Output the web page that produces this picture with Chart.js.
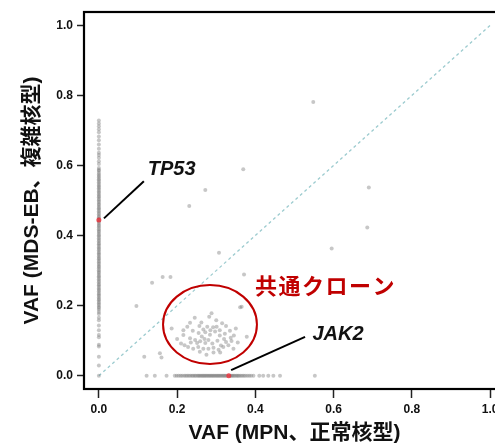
<!DOCTYPE html>
<html><head><meta charset="utf-8">
<script src="https://cdn.jsdelivr.net/npm/chart.js@4"></script>
<style>html,body{margin:0;padding:0;background:#fff;overflow:hidden}#wrap{width:520px;height:445px}</style>
</head><body><div id="wrap"><canvas id="c" width="520" height="445"></canvas></div>
<script>
// ---- data (VAF values) ----
const tickValues = [0.0, 0.2, 0.4, 0.6, 0.8, 1.0];
const xTitle = "VAF (MPN、正常核型)";
const yTitle = "VAF (MDS-EB、複雑核型)";
// variants found only in MDS-EB (MPN VAF = 0)
const mdsOnlyVaf = [0.728,0.720,0.712,0.703,0.695,0.683,0.672,0.660,0.648,0.636,0.630,0.622,0.612,0.604,
 0.593,0.588,0.585,0.579,0.574,0.570,0.566,0.561,0.557,0.552,0.548,0.543,0.539,0.535,0.531,0.526,0.522,0.517,0.513,0.509,
 0.504,0.500,0.496,0.491,0.487,0.482,0.478,0.474,0.469,0.465,0.461,0.456,0.452,0.448,0.440,0.436,0.431,0.427,0.423,0.418,
 0.414,0.410,0.405,0.401,0.397,0.392,0.388,0.384,0.379,0.375,0.371,0.366,0.362,0.358,0.353,0.349,0.345,0.340,0.336,0.332,
 0.327,0.323,0.319,0.314,0.310,0.306,0.301,0.297,0.293,0.288,0.284,0.280,0.275,0.271,0.267,0.262,0.258,0.254,0.249,0.245,
 0.241,0.236,0.232,0.228,0.223,0.219,0.215,0.210,0.206,0.202,0.197,0.193,0.188,0.182,0.176,
 0.165,0.158,0.143,0.130,0.116,0.110,0.088,0.083,0.054,0.029,0.0];
// variants found only in MPN (MDS VAF = 0)
const mpnOnlyVaf = [0.122,0.143,0.173,0.194,0.199,0.204,0.209,0.213,0.218,0.222,0.226,0.230,0.234,0.238,0.241,0.245,0.248,
 0.252,0.255,0.258,0.261,0.264,0.267,0.270,0.273,0.276,0.279,0.282,0.285,0.288,0.291,0.294,0.297,0.300,0.303,0.306,0.309,
 0.312,0.315,0.318,0.321,0.324,0.327,0.336,0.339,0.342,0.345,0.348,0.352,0.355,0.358,0.362,0.366,0.370,0.374,0.379,0.384,
 0.389,0.395,0.410,0.420,0.433,0.446,0.463,0.552];
// variants present in both samples
const sharedMpnVaf = [0.288,0.282,0.361,0.233,0.186,0.216,0.216,0.257,0.267,0.277,0.292,0.301,0.309,0.325,
 0.255,0.263,0.272,0.284,0.297,0.309,0.322,0.335,0.233,0.246,0.251,0.259,0.272,0.280,0.290,0.303,0.312,0.325,0.337,0.339,
 0.210,0.219,0.228,0.241,0.254,0.267,0.280,0.293,0.306,0.318,0.331,0.344,0.293,0.310,
 0.378,0.365,0.245,0.300,0.262,0.315,0.240,0.350,0.200,0.226,0.270,0.285,0.320,0.345,0.258,0.275,0.235,0.355,
 0.548,0.369,0.272,0.231,0.690,0.686,0.595,0.307,0.136,0.163,0.183,0.371,0.096,0.116,0.156,0.160];
const sharedMdsVaf = [0.178,0.168,0.195,0.151,0.135,0.130,0.116,0.142,0.132,0.140,0.138,0.140,0.130,0.142,
 0.122,0.112,0.124,0.117,0.126,0.115,0.120,0.128,0.107,0.102,0.093,0.098,0.093,0.102,0.092,0.100,0.086,0.096,0.108,0.099,
 0.092,0.087,0.082,0.077,0.082,0.077,0.077,0.080,0.074,0.082,0.087,0.077,0.066,0.066,
 0.111,0.197,0.165,0.158,0.152,0.150,0.128,0.135,0.105,0.140,0.105,0.130,0.105,0.115,0.068,0.060,0.095,0.095,
 0.781,0.589,0.530,0.484,0.537,0.423,0.363,0.351,0.265,0.282,0.282,0.289,0.199,0.054,0.064,0.052];
const highlightGenes = ["TP53", "JAK2"];
const highlightMpnVaf = [0.0, 0.332];
const highlightMdsVaf = [0.444, 0.0];
const calloutLabel = "共通クローン";

// ---- build datasets ----
const greyPts = [];
mdsOnlyVaf.forEach(v => greyPts.push({x: 0, y: v}));
mpnOnlyVaf.forEach(v => greyPts.push({x: v, y: 0}));
sharedMpnVaf.forEach((v, i) => greyPts.push({x: v, y: sharedMdsVaf[i]}));
const redPts = highlightMpnVaf.map((v, i) => ({x: v, y: highlightMdsVaf[i]}));

const FONT = "'Liberation Sans', Arial, 'Noto Sans CJK JP', sans-serif";
const CJK = "'Noto Sans CJK JP', 'Liberation Sans', sans-serif";

const annot = {
  id: 'annot',
  afterDatasetsDraw(chart) {
    const ctx = chart.ctx, xs = chart.scales.x, ys = chart.scales.y, a = chart.chartArea;
    const X = v => xs.getPixelForValue(v), Y = v => ys.getPixelForValue(v);
    ctx.save();
    // box
    ctx.strokeStyle = '#000'; ctx.lineWidth = 2.2;
    ctx.strokeRect(a.left, a.top, a.right - a.left, a.bottom - a.top);
    // ellipse
    ctx.strokeStyle = '#c00000'; ctx.lineWidth = 2;
    ctx.beginPath();
    ctx.ellipse(X(0.284), Y(0.146), X(0.284 + 0.120) - X(0.284), Y(0.146) - Y(0.146 + 0.1126), 0, 0, Math.PI * 2);
    ctx.stroke();
    // connectors
    ctx.strokeStyle = '#000'; ctx.lineWidth = 2;
    ctx.beginPath(); ctx.moveTo(X(0.013), Y(0.449)); ctx.lineTo(X(0.115), Y(0.555)); ctx.stroke();
    ctx.beginPath(); ctx.moveTo(X(0.338), Y(0.016)); ctx.lineTo(X(0.527), Y(0.111)); ctx.stroke();
    // gene labels
    ctx.fillStyle = '#111'; ctx.font = 'italic bold 20px ' + FONT; ctx.textBaseline = 'middle'; ctx.textAlign = 'left';
    ctx.fillText(highlightGenes[0], X(0.125), Y(0.588));
    ctx.fillText(highlightGenes[1], X(0.546), Y(0.119));
    // callout
    ctx.fillStyle = '#c00000'; ctx.font = 'bold 22px ' + CJK; ctx.textAlign = 'left';
    ctx.letterSpacing = '1.5px';
    ctx.fillText(calloutLabel, X(0.399), Y(0.256));
    ctx.restore();
  }
};

const scaleCommon = (title, isX) => ({
  type: 'linear', min: -0.038, max: 1.038,
  afterBuildTicks: s => { s.ticks = tickValues.map(v => ({value: v})); },
  afterFit: s => { if (isX) s.height = 56; else s.width = 84; },
  grid: {drawOnChartArea: false, drawTicks: true, tickLength: isX ? 9 : 7, tickColor: '#222', tickWidth: 1.5},
  border: {display: false},
  ticks: {color: '#111', font: {family: FONT, size: 12, weight: 'bold'}, padding: 4,
    callback: v => Number(v).toFixed(1), autoSkip: false, maxRotation: 0},
  title: {display: true, text: title, color: '#111', font: {family: FONT, size: 21, weight: 'bold', lineHeight: 1.1},
    padding: isX ? {top: 0, bottom: 0} : {top: 21, bottom: 0}}
});

new Chart(document.getElementById('c'), {
  type: 'scatter',
  data: {datasets: [
    {data: redPts, backgroundColor: 'rgba(230,40,50,0.8)', borderWidth: 0, pointRadius: 2.5},
    {data: greyPts, backgroundColor: 'rgba(115,115,115,0.4)', borderWidth: 0, pointRadius: 2},
    {data: [{x: 0, y: 0}, {x: 1, y: 1}], showLine: true, borderColor: '#9ccbcf', borderWidth: 1.3,
      borderDash: [3, 3], pointRadius: 0, fill: false}
  ]},
  options: {
    responsive: false, animation: false, devicePixelRatio: 1,
    layout: {padding: {left: 0, top: 12, right: 15, bottom: 0}},
    plugins: {legend: {display: false}, tooltip: {enabled: false}},
    scales: {x: scaleCommon(xTitle, true), y: scaleCommon(yTitle, false)}
  },
  plugins: [annot]
});
</script></body></html>
